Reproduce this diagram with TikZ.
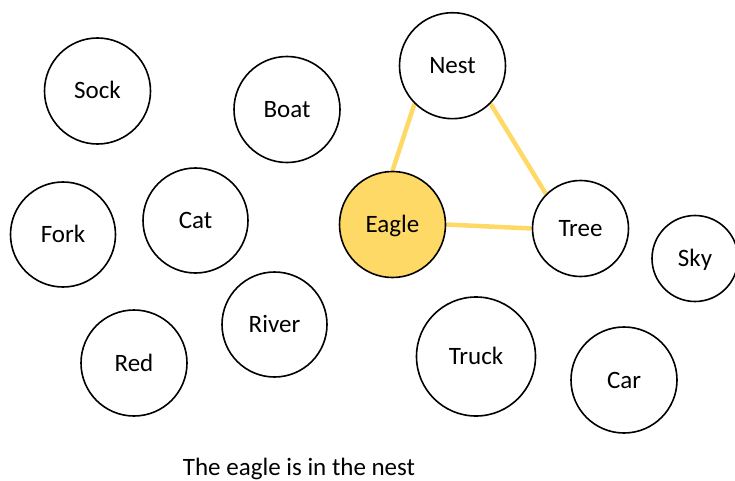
\documentclass[tikz,border=0pt]{standalone}
\usepackage{fontspec}
\setmainfont{Carlito}
\usetikzlibrary{backgrounds}
\definecolor{gold}{HTML}{FFD966}
\definecolor{goldline}{HTML}{FFD966}
\tikzset{
  word/.style={circle, draw=black, line width=1.6pt, fill=white, inner sep=0pt,
    font=\fontsize{25}{29}\selectfont, text height=16pt, text depth=0pt},
  link/.style={draw=goldline, line width=4.5pt}
}
\begin{document}
\begin{tikzpicture}[x=1pt,y=-1pt]
\useasboundingbox (0,0) rectangle (735,481);
\node[word, minimum size=106pt] (sock)  at (97.5,91)   {Sock};
\node[word, minimum size=106pt] (boat)  at (287,109.5) {Boat};
\node[word, minimum size=106pt] (nest)  at (452.5,65.7) {Nest};
\node[word, minimum size=105pt] (fork)  at (63,234.5)  {Fork};
\node[word, minimum size=105pt] (cat)   at (195.5,220.5) {Cat};
\node[word, minimum size=106pt, fill=gold] (eagle) at (392.5,224.5) {Eagle};
\node[word, minimum size=96pt]  (tree)  at (580.5,228.5) {Tree};
\node[word, minimum size=86pt]  (sky)   at (695,258.5) {Sky};
\node[word, minimum size=105pt] (river) at (274.5,324.5) {River};
\node[word, minimum size=106pt] (red)   at (134,363)   {Red};
\node[word, minimum size=119pt] (truck) at (476,356.5) {Truck};
\node[word, minimum size=106pt] (car)   at (624,380)   {Car};
\begin{scope}[on background layer]
\draw[link] (nest.south west) -- (eagle.north);
\draw[link] (nest.south east) -- (tree.north west);
\draw[link] (eagle.east) -- (tree.west);
\end{scope}
\node[anchor=base, inner sep=0pt, font=\fontsize{25}{29}\selectfont] (caption) at (299,475.5) {The eagle is in the nest};
\end{tikzpicture}
\end{document}
